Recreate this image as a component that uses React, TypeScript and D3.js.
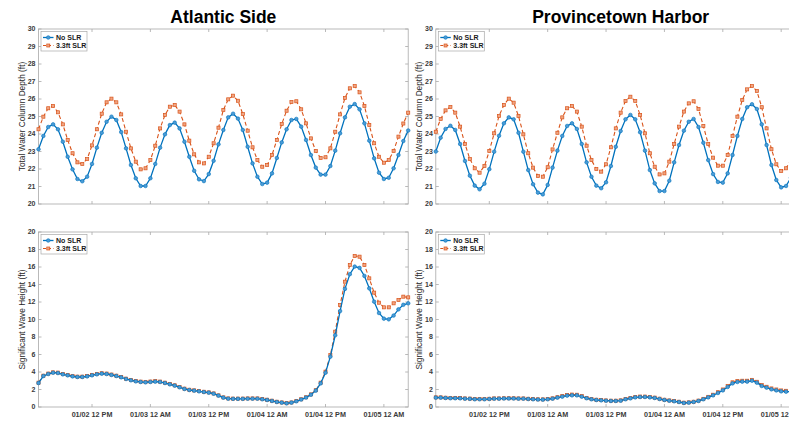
import React from "react";
import * as d3 from "d3";

const W = 789;
const H = 422;

// hourly timestamps: 01/02 01:00 .. 01/05 05:00
const hours = d3.range(77);
const times = hours.map((i) => new Date(2020, 0, 2, 1 + i));
const xTickDates = d3.range(6).map((i) => new Date(2020, 0, 2, 12 + 12 * i));

const titles = ["Atlantic Side", "Provincetown Harbor"];
const seriesNames = ["No SLR", "3.3ft SLR"];
const depthTicks = d3.range(20, 31, 1);
const waveTicks = d3.range(0, 21, 2);

const atlDepthNo = [
  23.13, 23.89, 24.4, 24.55, 24.27, 23.56, 22.7, 21.98, 21.43, 21.3, 21.56, 22.29, 23.22, 24.07, 24.7, 24.99,
  24.8, 24.11, 23.18, 22.23, 21.47, 21.03, 21.03, 21.47, 22.29, 23.22, 23.98, 24.51, 24.65, 24.32, 23.56, 22.7,
  21.9, 21.41, 21.31, 21.71, 22.47, 23.41, 24.23, 24.95, 25.16, 24.88, 24.23, 23.27, 22.32, 21.56, 21.14, 21.22,
  21.75, 22.63, 23.52, 24.27, 24.8, 24.86, 24.42, 23.66, 22.8, 22.08, 21.68, 21.68, 22.17, 23.05, 24.04, 24.95,
  25.56, 25.71, 25.41, 24.61, 23.62, 22.61, 21.79, 21.43, 21.5, 22.04, 22.8, 23.6, 24.2,
];
const atlDepthSLR = [
  24.27, 24.99, 25.47, 25.6, 25.24, 24.55, 23.66, 22.9, 22.38, 22.29, 22.57, 23.35, 24.27, 25.16, 25.81, 26.02,
  25.81, 25.12, 24.13, 23.18, 22.42, 21.98, 22.04, 22.51, 23.33, 24.32, 25.09, 25.56, 25.66, 25.28, 24.55, 23.62,
  22.84, 22.38, 22.32, 22.7, 23.47, 24.36, 25.37, 25.98, 26.19, 25.9, 25.14, 24.19, 23.24, 22.51, 22.13, 22.23,
  22.8, 23.66, 24.57, 25.33, 25.83, 25.87, 25.41, 24.61, 23.75, 23.03, 22.63, 22.67, 23.18, 24.13, 25.12, 26.06,
  26.61, 26.74, 26.38, 25.6, 24.51, 23.47, 22.7, 22.36, 22.51, 23.03, 23.85, 24.6, 25.22,
];
const provDepthNo = [
  23.0, 23.79, 24.29, 24.47, 24.23, 23.43, 22.46, 21.62, 21.05, 20.84, 21.16, 21.99, 22.99, 23.9, 24.61, 24.95,
  24.84, 24.07, 22.99, 21.94, 21.13, 20.65, 20.55, 21.09, 22.08, 23.05, 23.89, 24.46, 24.61, 24.29, 23.43, 22.38,
  21.56, 21.05, 20.9, 21.24, 22.17, 23.27, 24.17, 24.84, 25.09, 24.84, 24.1, 23.05, 21.94, 21.18, 20.74, 20.74,
  21.33, 22.38, 23.37, 24.19, 24.7, 24.86, 24.4, 23.5, 22.51, 21.71, 21.26, 21.22, 21.75, 22.8, 23.89, 24.86,
  25.53, 25.7, 25.43, 24.55, 23.37, 22.23, 21.37, 20.95, 21.03, 21.5, 22.3, 23.1, 23.9,
];
const provDepthSLR = [
  24.13, 24.86, 25.35, 25.54, 25.22, 24.42, 23.43, 22.57, 22.04, 21.79, 22.17, 23.03, 24.04, 25.03, 25.66, 26.02,
  25.79, 25.03, 23.98, 22.9, 22.08, 21.6, 21.56, 22.1, 23.12, 24.07, 24.95, 25.47, 25.6, 25.28, 24.42, 23.33,
  22.51, 22.0, 21.85, 22.27, 23.24, 24.32, 25.22, 25.89, 26.13, 25.89, 25.09, 24.04, 22.9, 22.13, 21.69, 21.75,
  22.42, 23.43, 24.42, 25.28, 25.75, 25.87, 25.43, 24.46, 23.43, 22.65, 22.19, 22.19, 22.8, 23.89, 24.99, 25.94,
  26.55, 26.74, 26.46, 25.53, 24.32, 23.13, 22.27, 21.89, 22.04, 22.5, 23.3, 24.1, 24.9,
];
const atlWaveNo = [
  2.74, 3.54, 3.77, 3.92, 3.88, 3.73, 3.62, 3.5, 3.43, 3.43, 3.5, 3.62, 3.73, 3.81, 3.77, 3.66,
  3.54, 3.39, 3.2, 3.05, 2.93, 2.86, 2.82, 2.86, 2.9, 2.86, 2.74, 2.59, 2.44, 2.25, 2.06, 1.94,
  1.87, 1.79, 1.71, 1.64, 1.52, 1.3, 1.07, 0.95, 0.93, 0.93, 0.93, 0.95, 0.95, 0.95, 0.88, 0.8,
  0.69, 0.57, 0.5, 0.42, 0.5, 0.65, 0.85, 1.08, 1.4, 1.87, 2.7, 3.92, 5.75, 8.2, 10.97, 13.5,
  15.18, 16.05, 15.9, 14.98, 13.56, 12.04, 10.74, 10.1, 10.02, 10.45, 11.16, 11.68, 11.85,
];
const atlWaveSLR = [
  2.78, 3.58, 3.82, 3.96, 3.93, 3.78, 3.66, 3.54, 3.47, 3.47, 3.54, 3.67, 3.78, 3.86, 3.82, 3.71,
  3.58, 3.43, 3.24, 3.09, 2.97, 2.9, 2.87, 2.91, 2.95, 2.9, 2.78, 2.63, 2.48, 2.29, 2.1, 1.97,
  1.9, 1.82, 1.74, 1.67, 1.55, 1.33, 1.1, 0.98, 0.96, 0.96, 0.96, 0.98, 0.98, 0.98, 0.91, 0.83,
  0.72, 0.6, 0.52, 0.44, 0.52, 0.68, 0.88, 1.11, 1.44, 1.92, 2.78, 4.04, 5.94, 8.61, 11.66, 14.32,
  16.23, 17.26, 17.18, 16.23, 14.7, 13.07, 11.92, 11.39, 11.39, 11.85, 12.23, 12.61, 12.53,
];
const provWaveNo = [
  1.07, 1.07, 1.03, 1.0, 1.0, 0.99, 0.95, 0.93, 0.88, 0.88, 0.88, 0.91, 0.95, 0.95, 0.97, 0.97,
  0.97, 0.95, 0.95, 0.91, 0.88, 0.85, 0.84, 0.88, 0.95, 1.07, 1.18, 1.3, 1.33, 1.33, 1.18, 1.0,
  0.88, 0.8, 0.76, 0.72, 0.69, 0.69, 0.72, 0.88, 0.99, 1.1, 1.14, 1.14, 1.1, 1.03, 0.91, 0.8,
  0.72, 0.65, 0.57, 0.46, 0.5, 0.57, 0.69, 0.88, 1.1, 1.33, 1.6, 1.9, 2.29, 2.7, 2.86, 2.9,
  2.9, 3.0, 2.78, 2.4, 2.21, 2.02, 1.9, 1.79, 1.75, 1.75, 1.76, 1.78, 1.8,
];
const provWaveSLR = [
  1.1, 1.1, 1.06, 1.03, 1.03, 1.02, 0.98, 0.96, 0.91, 0.91, 0.91, 0.94, 0.98, 0.98, 1.0, 1.0,
  1.0, 0.98, 0.98, 0.94, 0.91, 0.88, 0.87, 0.91, 0.99, 1.12, 1.25, 1.38, 1.42, 1.4, 1.24, 1.04,
  0.91, 0.83, 0.79, 0.75, 0.72, 0.72, 0.76, 0.92, 1.04, 1.15, 1.19, 1.19, 1.14, 1.07, 0.95, 0.83,
  0.75, 0.68, 0.6, 0.49, 0.53, 0.6, 0.73, 0.93, 1.16, 1.4, 1.69, 2.0, 2.4, 2.82, 2.97, 3.0,
  3.0, 3.1, 2.88, 2.5, 2.31, 2.12, 2.0, 1.89, 1.85, 1.85, 1.86, 1.88, 1.9,
];

const BLUE = "#0072BD";
const ORANGE = "#D95319";
const AXIS = "#a8a8a8";
const TEXT = "#3a3a3a";
const FONT = "'Liberation Sans', Arial, Helvetica, sans-serif";

const PW = 369.7;
const PH = 175;
const LEFTS = [38.5, 435.8];
const TOPS = [29, 232];

type PanelProps = {
  id: string;
  left: number;
  top: number;
  yDomain: [number, number];
  yTicks: number[];
  yLabel: string;
  no: number[];
  slr: number[];
  showXLabels: boolean;
  title?: string;
};

function Panel({ id, left, top, yDomain, yTicks, yLabel, no, slr, showXLabels, title }: PanelProps) {
  const x = d3.scaleTime().domain([times[0], times[times.length - 1]]).range([left, left + PW]);
  const y = d3.scaleLinear().domain(yDomain).range([top + PH, top]);
  const line = d3
    .line<number>()
    .x((_, i) => x(times[i]))
    .y((d) => y(d));
  const fmt = d3.timeFormat("%m/%d %I %p");
  const right = left + PW;
  const bottom = top + PH;
  const tl = 3;
  const sq = 3.1;
  return (
    <g>
      <defs>
        <clipPath id={id}>
          <rect x={left - 3} y={top - 3} width={PW + 6} height={PH + 6} />
        </clipPath>
      </defs>
      {title && (
        <text x={left + PW / 2} y={22.5} textAnchor="middle" fontSize={17.5} fontWeight="bold" fill="#000" fontFamily={FONT}>
          {title}
        </text>
      )}
      {/* axes box */}
      <rect x={left} y={top} width={PW} height={PH} fill="none" stroke={AXIS} strokeWidth={0.8} />
      {/* x ticks */}
      {xTickDates.map((d, i) => (
        <g key={"xt" + i}>
          <line x1={x(d)} x2={x(d)} y1={bottom} y2={bottom - tl} stroke={AXIS} strokeWidth={0.8} />
          <line x1={x(d)} x2={x(d)} y1={top} y2={top + tl} stroke={AXIS} strokeWidth={0.8} />
          {showXLabels && (
            <text x={x(d)} y={bottom + 10} textAnchor="middle" fontSize={7.2} fontWeight="bold" fill={TEXT} fontFamily={FONT}>
              {fmt(d)}
            </text>
          )}
        </g>
      ))}
      {/* y ticks */}
      {yTicks.map((t, i) => (
        <g key={"yt" + i}>
          <line x1={left} x2={left + tl} y1={y(t)} y2={y(t)} stroke={AXIS} strokeWidth={0.8} />
          <line x1={right} x2={right - tl} y1={y(t)} y2={y(t)} stroke={AXIS} strokeWidth={0.8} />
          <text x={left - 3} y={y(t)} dy="0.35em" textAnchor="end" fontSize={7} fontWeight="bold" fill={TEXT} fontFamily={FONT}>
            {t}
          </text>
        </g>
      ))}
      <text
        transform={`translate(${left - 16.5},${top + PH / 2}) rotate(-90)`}
        dy="0.35em"
        textAnchor="middle"
        fontSize={8.3}
        fill="#262626"
        fontFamily={FONT}
      >
        {yLabel}
      </text>
      {/* series */}
      <g clipPath={`url(#${id})`}>
        <path d={line(slr) || ""} fill="none" stroke={ORANGE} strokeWidth={1.1} strokeDasharray="4,2.6" />
        {slr.map((v, i) => (
          <rect
            key={"s" + i}
            x={x(times[i]) - sq / 2}
            y={y(v) - sq / 2}
            width={sq}
            height={sq}
            fill="#f0a583"
            stroke={ORANGE}
            strokeWidth={0.7}
          />
        ))}
        <path d={line(no) || ""} fill="none" stroke={BLUE} strokeWidth={1.3} />
        {no.map((v, i) => (
          <circle key={"n" + i} cx={x(times[i])} cy={y(v)} r={1.8} fill="#4b9bd5" stroke={BLUE} strokeWidth={0.6} />
        ))}
      </g>
      {/* legend */}
      <g>
        <rect x={left + 2.5} y={top + 2.5} width={46} height={19.5} fill="#fff" stroke={AXIS} strokeWidth={0.7} />
        <line x1={left + 4.5} x2={left + 15} y1={top + 8.5} y2={top + 8.5} stroke={BLUE} strokeWidth={1.3} />
        <circle cx={left + 9.75} cy={top + 8.5} r={1.8} fill="#4b9bd5" stroke={BLUE} strokeWidth={0.6} />
        <text x={left + 17.5} y={top + 8.5} dy="0.35em" fontSize={7} fontWeight="bold" fill="#1a1a1a" fontFamily={FONT}>
          {seriesNames[0]}
        </text>
        <line x1={left + 4.5} x2={left + 15} y1={top + 16.5} y2={top + 16.5} stroke={ORANGE} strokeWidth={1.1} strokeDasharray="3,2" />
        <rect x={left + 9.75 - 1.5} y={top + 16.5 - 1.5} width={3} height={3} fill="#f0a583" stroke={ORANGE} strokeWidth={0.7} />
        <text x={left + 17.5} y={top + 16.5} dy="0.35em" fontSize={7} fontWeight="bold" fill="#1a1a1a" fontFamily={FONT}>
          {seriesNames[1]}
        </text>
      </g>
    </g>
  );
}

export default function App() {
  return (
    <svg
      width={W}
      height={H}
      viewBox={`0 0 ${W} ${H}`}
      style={{ position: "absolute", left: 0, top: 0, display: "block", background: "#fff" }}
    >
      <rect x={0} y={0} width={W} height={H} fill="#fff" />
      <Panel id="c1" left={LEFTS[0]} top={TOPS[0]} yDomain={[20, 30]} yTicks={depthTicks} yLabel="Total Water Column Depth (ft)" no={atlDepthNo} slr={atlDepthSLR} showXLabels={false} title={titles[0]} />
      <Panel id="c2" left={LEFTS[1]} top={TOPS[0]} yDomain={[20, 30]} yTicks={depthTicks} yLabel="Total Water Column Depth (ft)" no={provDepthNo} slr={provDepthSLR} showXLabels={false} title={titles[1]} />
      <Panel id="c3" left={LEFTS[0]} top={TOPS[1]} yDomain={[0, 20]} yTicks={waveTicks} yLabel="Significant Wave Height (ft)" no={atlWaveNo} slr={atlWaveSLR} showXLabels={true} />
      <Panel id="c4" left={LEFTS[1]} top={TOPS[1]} yDomain={[0, 20]} yTicks={waveTicks} yLabel="Significant Wave Height (ft)" no={provWaveNo} slr={provWaveSLR} showXLabels={true} />
    </svg>
  );
}
